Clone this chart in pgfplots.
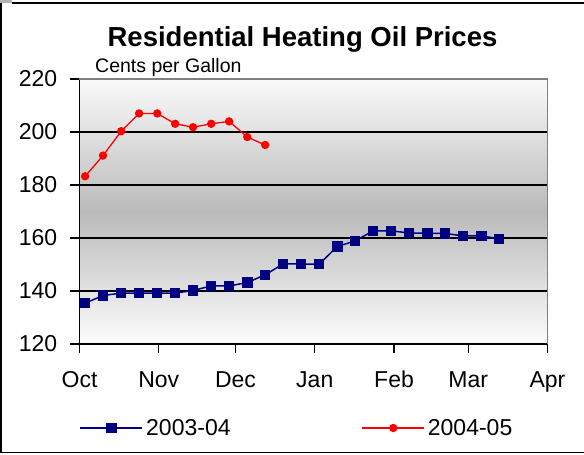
\documentclass[border=0pt]{standalone}
\usepackage{pgfplots}
\pgfplotsset{compat=1.18}
\usepackage{fontspec}
\setmainfont{Liberation Sans}
\definecolor{navy}{RGB}{0,0,128}
\definecolor{bordergray}{RGB}{128,128,128}
\begin{document}
\begin{tikzpicture}[x=1pt,y=1pt]
\useasboundingbox (0,0) rectangle (584,455);
% outer frame
\fill[black!30] (0,452) rectangle (12,455);
\draw[black, line width=1.2pt] (12,452) -- (584,452);
\draw[black, line width=1.2pt] (1,452) -- (1,2.5) -- (584,2.5);
% titles
\node[anchor=base, font=\bfseries\fontsize{27.5}{31}\selectfont, inner sep=0pt] at (302.5,408) {Residential Heating Oil Prices};
\node[anchor=base west, font=\fontsize{19.5}{22}\selectfont, inner sep=0pt] at (95,382) {Cents per Gallon};
\begin{axis}[
  at={(79.5pt,111pt)}, anchor=south west,
  scale only axis, width=468pt, height=265pt,
  xmin=0, xmax=183, ymin=120, ymax=220,
  axis x line*=bottom, axis y line*=left,
  axis line style={black, line width=1.5pt},
  xtick={0,31,61,92,123,152,183},
  xticklabels={Oct,Nov,Dec,Jan,Feb,Mar,Apr},
  ytick={120,140,160,180,200,220},
  extra y ticks={140,160,180,200},
  extra y tick labels={},
  extra y tick style={grid=major, major tick length=0pt},
  grid style={black, line width=1.5pt},
  tick align=outside,
  major tick length=9pt,
  tick style={black, line width=1.2pt},
  tick label style={font=\fontsize{23}{27}\selectfont, inner sep=0pt},
  /pgf/number format/assume math mode=true,
  yticklabel style={xshift=-13pt},
  xticklabel style={yshift=-18pt},
  axis background/.style={top color=black!2, bottom color=black!1, middle color=black!27},
  clip=false,
  legend columns=2,
  legend style={draw=none, fill=none, at={(0,-0.317)}, anchor=west, inner sep=0pt,
    font=\fontsize{23}{27}\selectfont,
    nodes={inner xsep=3pt, inner ysep=0pt},
    cells={anchor=west},
    /tikz/every even column/.append style={column sep=128pt}},
  legend image code/.code={\draw[mark repeat=2, mark phase=2, #1] plot coordinates {(0pt,0pt) (31pt,0pt) (62pt,0pt)};},
]
\addplot[navy, line width=1.5pt, mark=square*, mark size=4.5pt, mark options={solid}] coordinates {
(2.2,135.4) (9.2,138.3) (16.3,139.2) (23.3,139.2) (30.4,139.2) (37.4,139.2)
(44.4,140.2) (51.5,141.9) (58.5,141.9) (65.6,143.2) (72.6,146.1) (79.6,150.2)
(86.7,150.2) (93.7,150.1) (100.8,156.8) (107.8,158.9) (114.8,162.7) (121.9,162.7)
(128.9,161.9) (136.0,161.8) (143.0,161.7) (150.0,160.8) (157.1,160.8) (164.1,159.7)
};
\addlegendentry{2003-04}
\addplot[red, line width=1.3pt, mark=*, mark size=3.5pt, mark options={solid}] coordinates {
(2.2,183.3) (9.2,191.1) (16.3,200.3) (23.3,207.0) (30.4,207.0) (37.4,203.1)
(44.4,201.8) (51.5,203.1) (58.5,204.0) (65.6,198.1) (72.6,195.1)
};
\addlegendentry{2004-05}
\draw[bordergray, line width=1.5pt] (rel axis cs:0,1) -- (rel axis cs:1,1) -- (rel axis cs:1,0);
\end{axis}
\end{tikzpicture}
\end{document}
